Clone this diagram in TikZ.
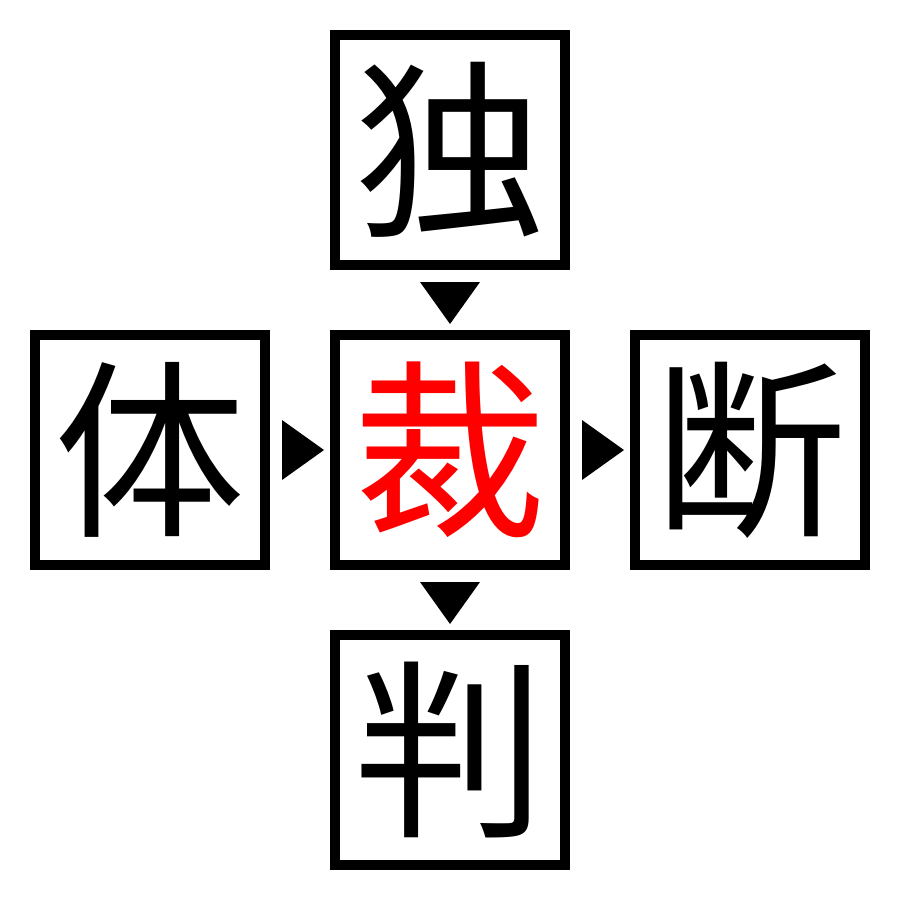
\documentclass[tikz,border=0pt]{standalone}
\usepackage{fontspec}
\newfontfamily\cjk{Noto Sans CJK JP}
\begin{document}
\begin{tikzpicture}[x=1bp,y=-1bp,
  kbox/.style={draw=black,line width=10bp,minimum width=230bp,minimum height=230bp,inner sep=0pt,
    font=\cjk\fontsize{192}{192}\selectfont},
  tri/.style={fill=black}]
\useasboundingbox (0,0) rectangle (900,900);
\node[kbox] (t) at (450,150) {独};
\node[kbox] (l) at (150,450) {体};
\node[kbox,text=red] (c) at (450,450) {裁};
\node[kbox] (r) at (750,450) {断};
\node[kbox] (b) at (450,750) {判};
\fill[tri] (420,282) -- (480,282) -- (450,324) -- cycle;
\fill[tri] (420,582) -- (480,582) -- (450,624) -- cycle;
\fill[tri] (282,420) -- (282,480) -- (324,450) -- cycle;
\fill[tri] (582,420) -- (582,480) -- (624,450) -- cycle;
\end{tikzpicture}
\end{document}
